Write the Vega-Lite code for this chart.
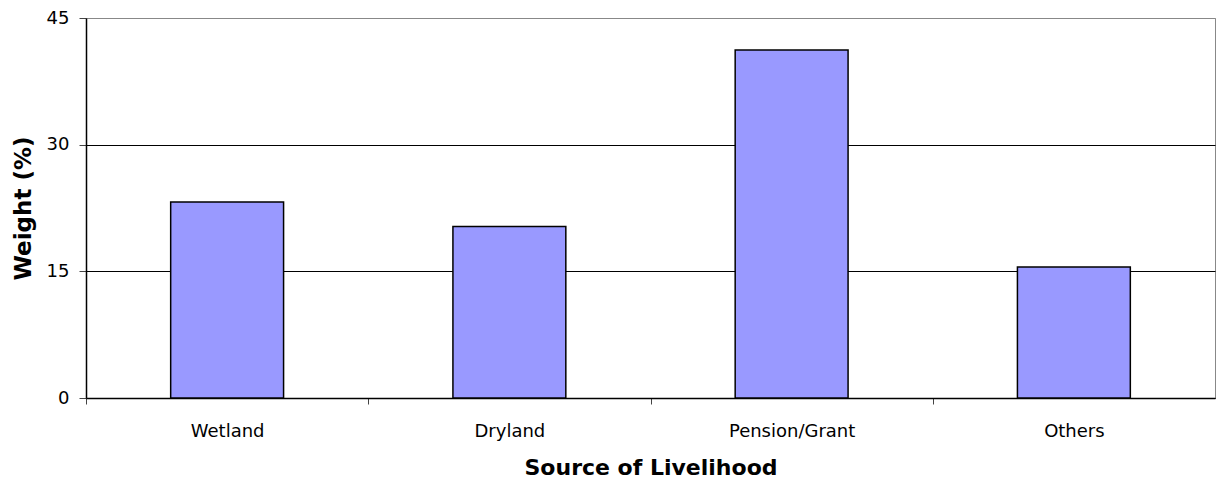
{
  "$schema": "https://vega.github.io/schema/vega-lite/v6.json",
  "width": 1129,
  "height": 380,
  "autosize": {"type": "none"},
  "padding": {"left": 86, "top": 18, "right": 1, "bottom": 81},
  "background": "white",
  "config": {
    "font": "DejaVu Sans",
    "view": {"stroke": "#888888", "strokeWidth": 1}
  },
  "data": {
    "values": [
      {"source": "Wetland", "weight": 23.2},
      {"source": "Dryland", "weight": 20.3},
      {"source": "Pension/Grant", "weight": 41.2},
      {"source": "Others", "weight": 15.5}
    ]
  },
  "mark": {"type": "bar", "fill": "#9999FF", "stroke": "#000000", "strokeWidth": 1.5},
  "encoding": {
    "x": {
      "field": "source",
      "type": "nominal",
      "sort": null,
      "scale": {"paddingInner": 0.6, "paddingOuter": 0.3},
      "axis": {
        "title": "Source of Livelihood",
        "titleFont": "DejaVu Sans",
        "titleFontSize": 22,
        "titleFontWeight": "bold",
        "titleColor": "#000",
        "titlePadding": 17,
        "labelFont": "DejaVu Sans",
        "labelAngle": 0,
        "labelFontSize": 18,
        "labelColor": "#000",
        "labelPadding": 18,
        "tickOffset": -141.1,
        "labelOffset": 141.1,
        "tickSize": 6,
        "tickColor": "#444",
        "domainColor": "#000",
        "domainWidth": 1.5
      }
    },
    "y": {
      "field": "weight",
      "type": "quantitative",
      "scale": {"domain": [0, 45], "nice": false},
      "axis": {
        "title": "Weight (%)",
        "titleFont": "DejaVu Sans",
        "titleFontSize": 23,
        "titleFontWeight": "bold",
        "titleColor": "#000",
        "titlePadding": 11,
        "values": [0, 15, 30, 45],
        "labelFont": "DejaVu Sans",
        "labelFontSize": 18,
        "labelColor": "#000",
        "labelPadding": 10,
        "tickSize": 7,
        "tickColor": "#444",
        "domainColor": "#000",
        "domainWidth": 1.5,
        "grid": true,
        "gridColor": {"condition": {"test": "datum.value == 45", "value": "#888888"}, "value": "#000000"},
        "gridWidth": 1
      }
    }
  }
}
